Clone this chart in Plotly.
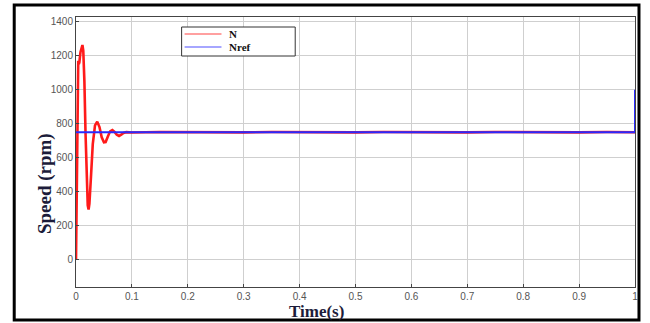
import plotly.graph_objects as go

# Rotor speed response N and reference Nref (rpm) over time (s)
t_n = [0, 0.001, 0.002, 0.003, 0.004, 0.005, 0.006, 0.008, 0.010, 0.0115,
       0.013, 0.015, 0.017, 0.019, 0.021, 0.0225, 0.024, 0.027, 0.030, 0.034,
       0.038, 0.042, 0.046, 0.050, 0.053, 0.057, 0.061, 0.065, 0.069, 0.073,
       0.077, 0.081, 0.085, 0.090, 0.10, 0.15, 0.20, 0.25, 0.30, 0.35, 0.40,
       0.45, 0.50, 0.55, 0.60, 0.65, 0.70, 0.75, 0.80, 0.85, 0.90, 0.95, 1.0]
speed_n = [0, 400, 850, 1100, 1170, 1150, 1160, 1220, 1255, 1262,
           1230, 1050, 750, 480, 320, 295, 330, 500, 680, 790,
           812, 780, 720, 690, 692, 725, 755, 763, 752, 735,
           728, 735, 745, 750, 748, 751, 749, 751, 749, 751, 749,
           751, 749, 751, 749, 751, 749, 751, 749, 751, 749, 751, 750]

t_ref = [0, 1.0, 1.0]
speed_ref = [750, 750, 1000]

x_ticks = [0, 0.1, 0.2, 0.3, 0.4, 0.5, 0.6, 0.7, 0.8, 0.9, 1]
x_labels = ["0", "0.1", "0.2", "0.3", "0.4", "0.5", "0.6", "0.7", "0.8", "0.9", "1"]
y_ticks = [0, 200, 400, 600, 800, 1000, 1200, 1400]

series_names = ["N", "Nref"]
series_colors = ["#ff1a1a", "#2a2aff"]

W, H = 650, 323
L, R, T, B = 76, 13, 17, 36
pw, ph = W - L - R, H - T - B


def px_x(p):
    return (p - L) / pw


def px_y(p):
    return (H - B - p) / ph


fig = go.Figure()
fig.add_trace(go.Scatter(x=t_n, y=speed_n, mode="lines", name=series_names[0],
                         line=dict(color=series_colors[0], width=2.6),
                         showlegend=False))
fig.add_trace(go.Scatter(x=t_ref, y=speed_ref, mode="lines", name=series_names[1],
                         line=dict(color=series_colors[1], width=2),
                         showlegend=False))

axis_common = dict(showgrid=True, gridcolor="#cfcfcf", gridwidth=1,
                   zeroline=False, showline=True, linecolor="#444",
                   linewidth=1, mirror=True, ticks="inside", ticklen=3,
                   tickcolor="#444",
                   tickfont=dict(family="Liberation Sans, Arial", size=10,
                                 color="#555"))

fig.update_xaxes(range=[0, 1.0], tickvals=x_ticks, ticktext=x_labels,
                 **axis_common)
fig.update_yaxes(range=[-160, 1427], tickvals=y_ticks, **axis_common)

shapes = []
# outer frame
shapes.append(dict(type="rect", xref="paper", yref="paper",
                   x0=px_x(14), x1=px_x(641), y0=px_y(320), y1=px_y(5),
                   line=dict(color="black", width=3)))
# legend box
lx0, lx1, ly0, ly1 = 182, 296, 27, 56
shapes.append(dict(type="rect", xref="paper", yref="paper",
                   x0=px_x(lx0), x1=px_x(lx1), y0=px_y(ly1), y1=px_y(ly0),
                   line=dict(color="#333", width=1), fillcolor="white"))
annotations = []
for i, (name, col) in enumerate(zip(series_names, series_colors)):
    yy = 34 + i * 13
    shapes.append(dict(type="line", xref="paper", yref="paper",
                       x0=px_x(185), x1=px_x(222), y0=px_y(yy), y1=px_y(yy),
                       line=dict(color=col, width=1.3), opacity=0.55))
    annotations.append(dict(xref="paper", yref="paper", x=px_x(229),
                            y=px_y(yy), text="<b>%s</b>" % name,
                            showarrow=False, xanchor="left", yanchor="middle",
                            borderpad=0,
                            font=dict(family="Liberation Serif, Times New Roman",
                                      size=11, color="#111")))

annotations.append(dict(xref="paper", yref="paper", x=px_x(45), y=px_y(184),
                        text="<b>Speed (rpm)</b>", textangle=-90,
                        showarrow=False, xanchor="center", yanchor="middle",
                        font=dict(family="Liberation Serif, Times New Roman",
                                  size=19, color="#1c1c3a")))
annotations.append(dict(xref="paper", yref="paper", x=px_x(317), y=px_y(311),
                        text="<b>Time(s)</b>",
                        showarrow=False, xanchor="center", yanchor="middle",
                        borderpad=0,
                        font=dict(family="Liberation Serif, Times New Roman",
                                  size=17, color="#1c1c3a")))

fig.update_layout(width=W, height=H, margin=dict(l=L, r=R, t=T, b=B),
                  paper_bgcolor="white", plot_bgcolor="white",
                  shapes=shapes, annotations=annotations)

fig.write_html("out.html")
